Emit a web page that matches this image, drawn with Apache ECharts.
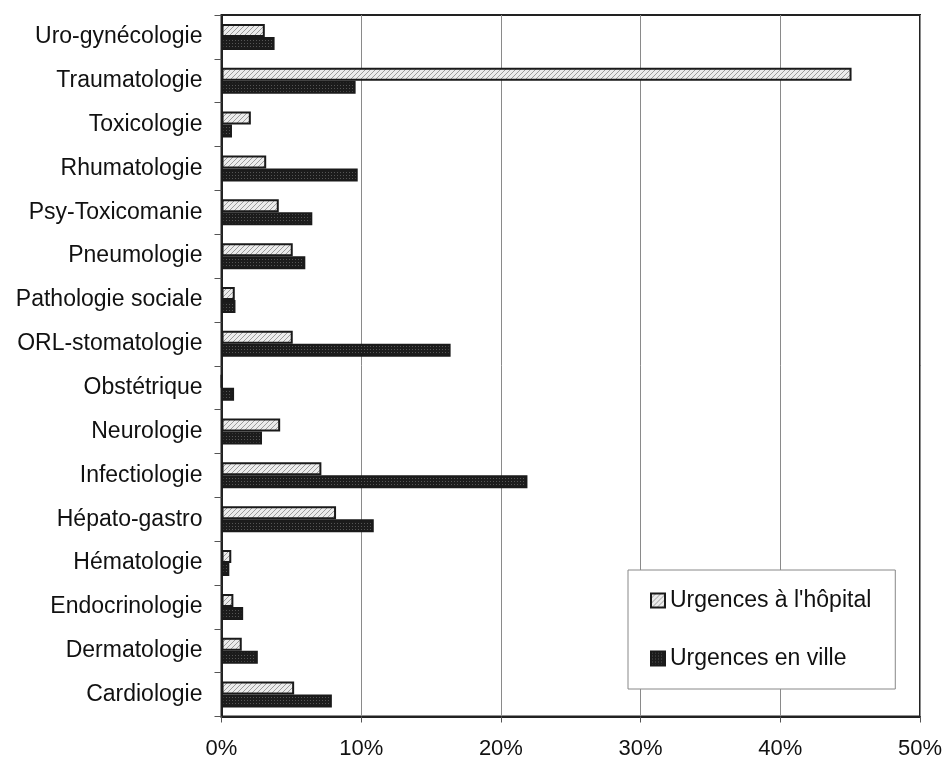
<!DOCTYPE html>
<html><head><meta charset="utf-8">
<script src="https://cdn.jsdelivr.net/npm/echarts@6/dist/echarts.min.js"></script>
<style>html,body{margin:0;padding:0;background:#fff}#c{width:946px;height:761px}</style>
</head><body><div id="c"></div>
<script>
const categories = ["Cardiologie","Dermatologie","Endocrinologie","Hématologie","Hépato-gastro","Infectiologie","Neurologie","Obstétrique","ORL-stomatologie","Pathologie sociale","Pneumologie","Psy-Toxicomanie","Rhumatologie","Toxicologie","Traumatologie","Uro-gynécologie"];
const hopital = [5.2,1.45,0.85,0.7,8.2,7.15,4.2,0,5.1,0.95,5.1,4.1,3.2,2.1,45.1,3.1];
const ville   = [7.9,2.6,1.55,0.56,10.9,21.9,2.9,0.9,16.4,1.0,6.0,6.5,9.75,0.75,9.6,3.8];
const xTicks = [0,10,20,30,40,50];

function hatch(){
  const c=document.createElement('canvas');c.width=5;c.height=5;
  const g=c.getContext('2d');g.fillStyle='#ececec';g.fillRect(0,0,5,5);
  g.strokeStyle='#9c9c9c';g.lineWidth=1;
  g.beginPath();g.moveTo(0,5);g.lineTo(5,0);g.moveTo(-2.5,2.5);g.lineTo(2.5,-2.5);g.moveTo(2.5,7.5);g.lineTo(7.5,2.5);g.stroke();
  return {image:c,repeat:'repeat'};
}
function dots(){
  const c=document.createElement('canvas');c.width=3;c.height=3;
  const g=c.getContext('2d');g.fillStyle='#1c1c1c';g.fillRect(0,0,3,3);
  g.fillStyle='#555';g.fillRect(1,1,1,1);
  return {image:c,repeat:'repeat'};
}
const FONT='Liberation Sans, Arial, sans-serif';
const chart=echarts.init(document.getElementById('c'),null,{renderer:'canvas'});
chart.setOption({
  animation:false,
  textStyle:{fontFamily:FONT},
  grid:{left:221.5,right:26,top:15,bottom:44.5,show:true,borderColor:'#222',borderWidth:2,backgroundColor:'transparent'},
  legend:{
    data:['Urgences à l\'hôpital','Urgences en ville'],
    orient:'vertical',left:628,top:570,
    padding:[19,24,19,22],itemGap:35,itemWidth:14,itemHeight:14,
    backgroundColor:'#fff',borderColor:'#888',borderWidth:1,
    textStyle:{fontSize:23,color:'#111',fontFamily:FONT},
    icon:'rect'
  },
  xAxis:{type:'value',min:0,max:50,interval:10,
    axisLine:{show:true,lineStyle:{color:'#222',width:2}},
    axisTick:{show:true,length:6,lineStyle:{color:'#555'}},
    axisLabel:{formatter:v=>v+'%',fontSize:22,color:'#111',margin:21},
    splitLine:{show:true,lineStyle:{color:'#8a8a8a',width:1}}},
  yAxis:{type:'category',data:categories,
    axisLine:{show:true,lineStyle:{color:'#222',width:2}},
    axisTick:{show:true,length:7,lineStyle:{color:'#555'}},
    axisLabel:{fontSize:23,color:'#111',margin:19,padding:[6,0,0,0]}},
  series:[
    {name:'Urgences à l\'hôpital',type:'bar',data:hopital,barWidth:13,barGap:'0%',
      itemStyle:{color:hatch(),borderColor:'#1a1a1a',borderWidth:2}},
    {name:'Urgences en ville',type:'bar',data:ville,barWidth:13,barGap:'0%',
      itemStyle:{color:dots(),borderColor:'#1a1a1a',borderWidth:2}}
  ]
});
</script></body></html>
